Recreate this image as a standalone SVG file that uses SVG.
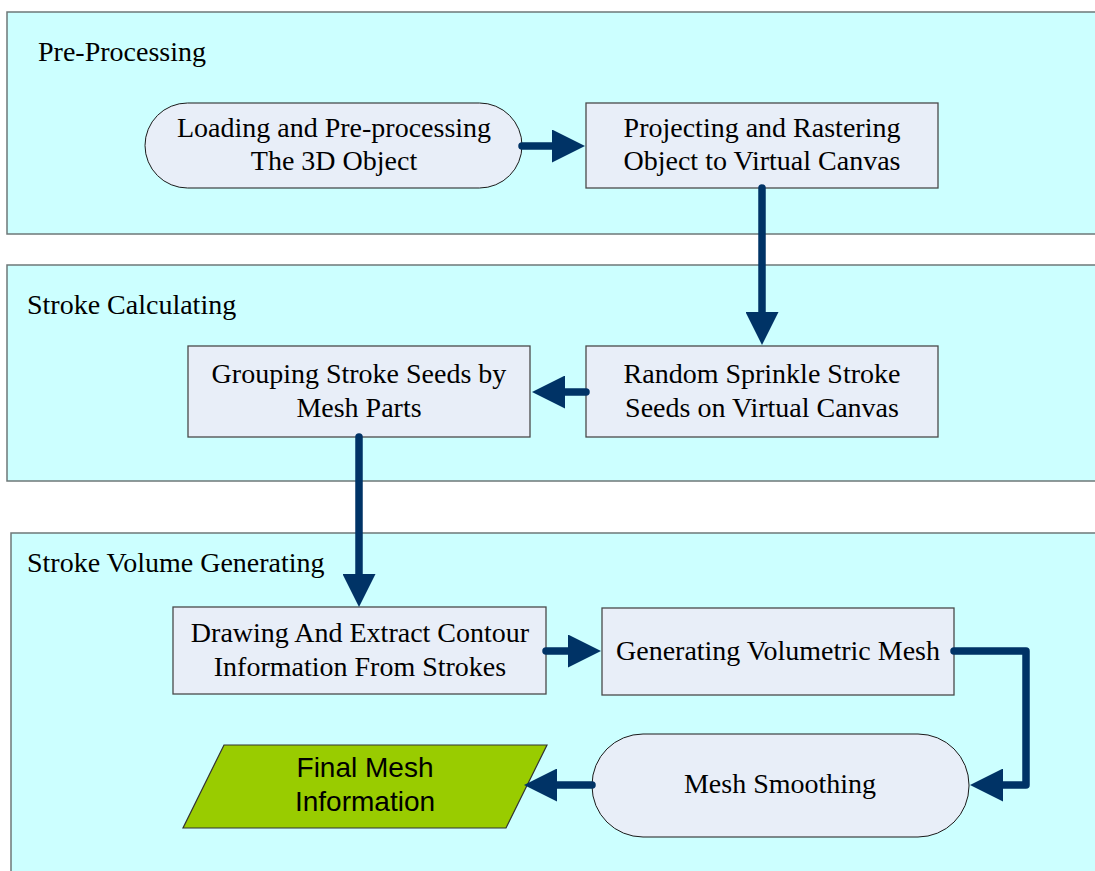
<svg xmlns="http://www.w3.org/2000/svg" width="1095" height="871" viewBox="0 0 1095 871">
<defs>
<style>
.panel{fill:#CCFFFF;stroke:#6E7878;stroke-width:1.5}
.box{fill:#E8EEF8;stroke:#4A4A4A;stroke-width:1.3}
.term{fill:#E8EEF8;stroke:#1A1A1A;stroke-width:1}
.io{fill:#99CC00;stroke:#333333;stroke-width:1.2}
.lbl{font-family:"Liberation Serif","Times New Roman",serif;font-size:28px;fill:#000}
.t{font-family:"Liberation Serif","Times New Roman",serif;font-size:28px;fill:#000;text-anchor:middle}
.s{font-family:"Liberation Sans",Arial,sans-serif;font-size:28px;fill:#000;text-anchor:middle}
.c{fill:none;stroke:#003366;stroke-width:7.5;stroke-linecap:round;stroke-linejoin:round}
</style>
<marker id="ah" markerUnits="userSpaceOnUse" viewBox="0 0 33 33" markerWidth="33" markerHeight="33" refX="1" refY="16.5" orient="auto">
<path d="M0,0 L33,16.5 L0,33 Z" fill="#003366"/>
</marker>
</defs>
<rect width="1095" height="871" fill="#FFFFFF"/>
<g id="panel-preprocessing">
<rect class="panel" x="7" y="12" width="1100" height="222"/>
<text class="lbl" x="38" y="61">Pre-Processing</text>
</g>
<g id="panel-stroke-calculating">
<rect class="panel" x="7" y="265" width="1100" height="216"/>
<text class="lbl" x="27" y="314">Stroke Calculating</text>
</g>
<g id="panel-stroke-volume">
<rect class="panel" x="11" y="533" width="1100" height="350"/>
<text class="lbl" x="27" y="572">Stroke Volume Generating</text>
</g>
<g id="node-loading">
<rect class="term" x="145" y="103" width="377" height="85" rx="42.5" ry="42.5"/>
<text class="t" x="334" y="137">Loading and Pre-processing</text>
<text class="t" x="334" y="170">The 3D Object</text>
</g>
<g id="node-projecting">
<rect class="box" x="586" y="103" width="352" height="85"/>
<text class="t" x="762" y="137">Projecting and Rastering</text>
<text class="t" x="762" y="170">Object to Virtual Canvas</text>
</g>
<g id="node-random">
<rect class="box" x="586" y="346" width="352" height="91"/>
<text class="t" x="762" y="383">Random Sprinkle Stroke</text>
<text class="t" x="762" y="417">Seeds on Virtual Canvas</text>
</g>
<g id="node-grouping">
<rect class="box" x="188" y="346" width="342" height="91"/>
<text class="t" x="359" y="383">Grouping Stroke Seeds by</text>
<text class="t" x="359" y="417">Mesh Parts</text>
</g>
<g id="node-drawing">
<rect class="box" x="173" y="607" width="373" height="87"/>
<text class="t" x="360" y="642">Drawing And Extract Contour</text>
<text class="t" x="360" y="676">Information From Strokes</text>
</g>
<g id="node-generating">
<rect class="box" x="602" y="608" width="352" height="87"/>
<text class="t" x="778" y="660">Generating Volumetric Mesh</text>
</g>
<g id="node-smoothing">
<rect class="term" x="592" y="734" width="377" height="103" rx="51" ry="51"/>
<text class="t" x="780" y="793">Mesh Smoothing</text>
</g>
<g id="node-final">
<polygon class="io" points="224,745 547,745 506,828 183,828"/>
<text class="s" x="365" y="777">Final Mesh</text>
<text class="s" x="365" y="811">Information</text>
</g>
<g id="connectors">
<path class="c" d="M522,146 L553,146" marker-end="url(#ah)"/>
<path class="c" d="M762,188 L762,313" marker-end="url(#ah)"/>
<path class="c" d="M586,392 L564,392" marker-end="url(#ah)"/>
<path class="c" d="M359,437 L359,575" marker-end="url(#ah)"/>
<path class="c" d="M546,651 L569,651" marker-end="url(#ah)"/>
<path class="c" d="M954,651 L1026,651 L1026,785 L1002,785" marker-end="url(#ah)"/>
<path class="c" d="M592,785 L556,785" marker-end="url(#ah)"/>
</g>
</svg>
